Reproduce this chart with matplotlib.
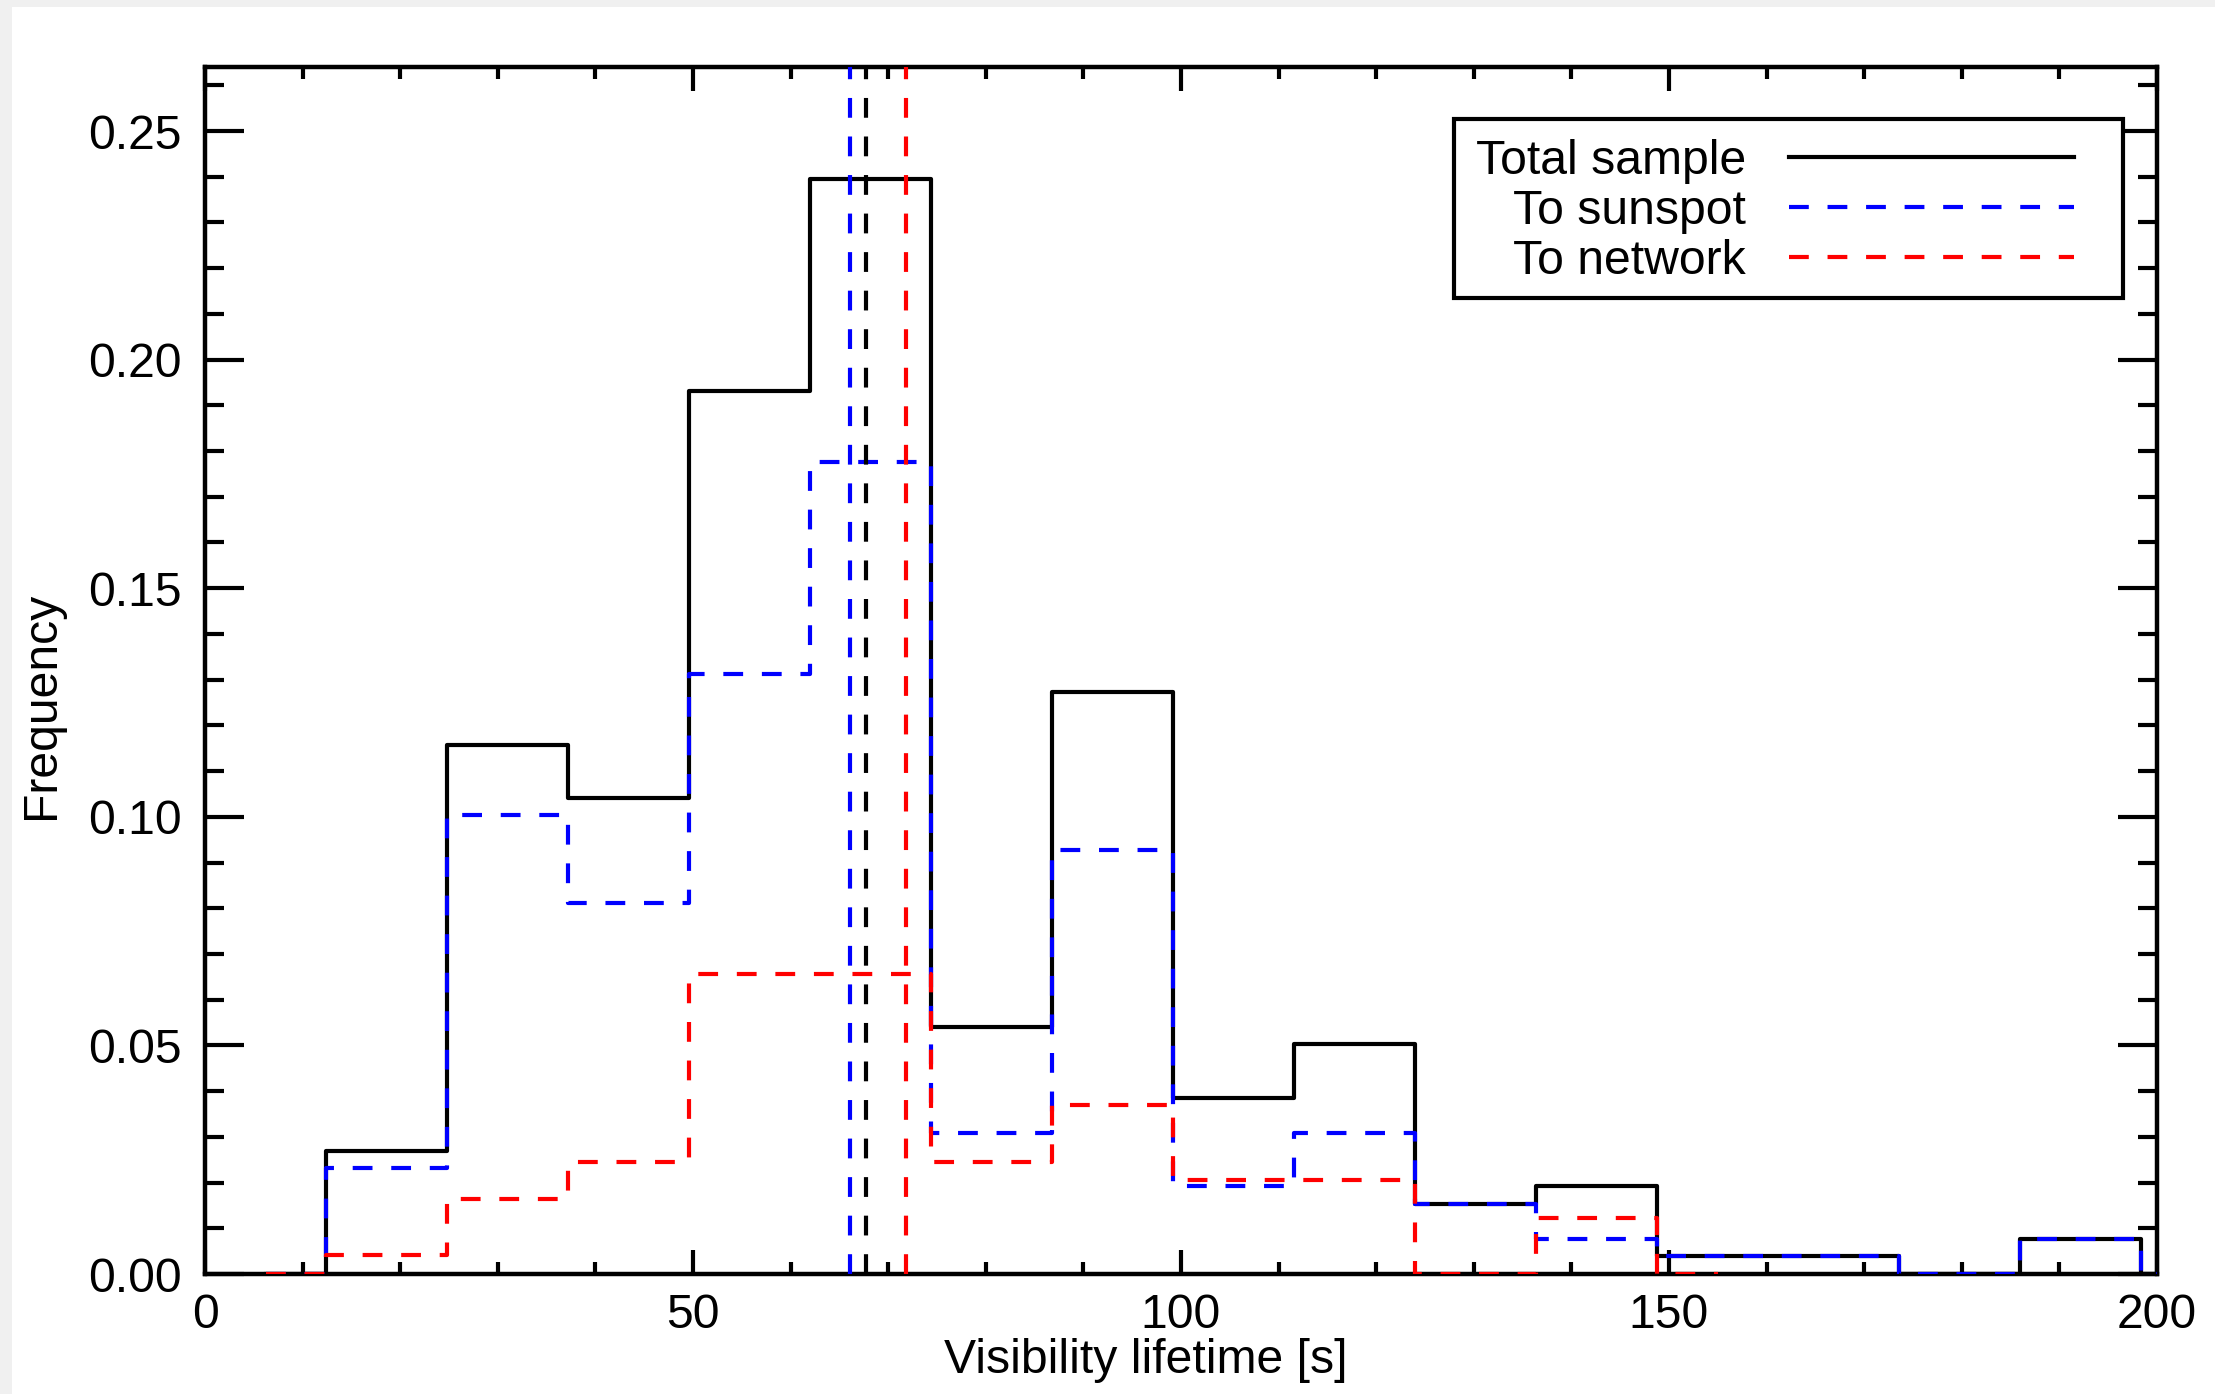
import matplotlib
matplotlib.use('Agg')
import matplotlib.pyplot as plt
from matplotlib.ticker import MultipleLocator, FormatStrFormatter
from matplotlib.patches import Rectangle

plt.rcParams['font.family'] = ['Liberation Sans', 'DejaVu Sans']

# Histogram bin centres (bin width 12.4 s), IDL psym=10 style steps
centers = [6.2, 18.6, 31.0, 43.4, 55.8, 68.2, 80.6, 93.0, 105.4, 117.8,
           130.2, 142.6, 155.0, 167.4, 179.8, 192.2, 204.6]
total = [0.0, 0.0270, 0.1158, 0.1042, 0.1931, 0.2394, 0.0541, 0.1274, 0.0386,
         0.0502, 0.0154, 0.0193, 0.0039, 0.0039, 0.0, 0.0077, 0.0]
sunspot = [0.0, 0.0232, 0.1004, 0.0811, 0.1313, 0.1776, 0.0309, 0.0927, 0.0193,
           0.0309, 0.0154, 0.0077, 0.0039, 0.0039, 0.0, 0.0077, 0.0]
network_centers = centers[:13]
network = [0.0, 0.0041, 0.0164, 0.0246, 0.0656, 0.0656, 0.0246, 0.0369, 0.0205,
           0.0205, 0.0, 0.0123, 0.0]

# Mean lifetimes
mean_total = 67.7
mean_sunspot = 66.1
mean_network = 71.8

labels = ['Total sample', 'To sunspot', 'To network']
fs = 34.7

fig = plt.figure(figsize=(22.15, 13.94), dpi=100)
fig.patch.set_facecolor('#f0f0f0')
bg = Rectangle((12 / 2215, 0), 1, 1 - 7 / 1394, transform=fig.transFigure,
               facecolor='white', edgecolor='none', zorder=-10)
fig.add_artist(bg)

ax = fig.add_axes([205 / 2215, 1 - 1274 / 1394, 1952 / 2215, 1207 / 1394])
ax.set_facecolor('white')

dash = (0, (4.75, 4.5))
lw = 3

l1, = ax.step(centers, total, where='mid', color='black', lw=lw, zorder=3)
l2, = ax.step(centers, sunspot, where='mid', color='blue', lw=lw, ls=dash, zorder=3)
l3, = ax.step(network_centers, network, where='mid', color='red', lw=lw, ls=dash, zorder=3)

ax.axvline(mean_sunspot, color='blue', lw=lw, ls=dash, zorder=3)
ax.axvline(mean_total, color='black', lw=lw, ls=dash, zorder=3)
ax.axvline(mean_network, color='red', lw=lw, ls=dash, zorder=3)

ax.set_xlim(0, 200)
ax.set_ylim(0, 0.264)

ax.xaxis.set_major_locator(MultipleLocator(50))
ax.xaxis.set_minor_locator(MultipleLocator(10))
ax.yaxis.set_major_locator(MultipleLocator(0.05))
ax.yaxis.set_minor_locator(MultipleLocator(0.01))
ax.yaxis.set_major_formatter(FormatStrFormatter('%.2f'))

ax.tick_params(axis='both', which='both', direction='in', top=True, right=True,
               width=3, labelsize=fs, color='black')
ax.tick_params(axis='x', which='major', length=17, pad=14)
ax.tick_params(axis='x', which='minor', length=8.7)
ax.tick_params(axis='y', which='major', length=28, pad=17)
ax.tick_params(axis='y', which='minor', length=14)
for s in ax.spines.values():
    s.set_linewidth(3.2)

ax.set_xlabel('Visibility lifetime [s]', fontsize=fs)
ax.xaxis.set_label_coords(0.482, -0.053)
ax.set_ylabel('Frequency', fontsize=fs)
ax.yaxis.set_label_coords(-0.072, 0.471)

# legend frame and entries
ax.add_patch(Rectangle((0.640, 0.809), 0.3426, 0.148, transform=ax.transAxes,
                       facecolor='white', edgecolor='black', lw=3, zorder=4))
leg = ax.legend([l1, l2, l3], labels, loc='center left', bbox_to_anchor=(0.651, 0.8805),
                frameon=False, markerfirst=False, fontsize=fs, handlelength=5.9,
                handletextpad=0.9, borderpad=0, borderaxespad=0, labelspacing=0.1)
leg.set_zorder(5)

fig.savefig('out.png', dpi=100, facecolor=fig.get_facecolor())
